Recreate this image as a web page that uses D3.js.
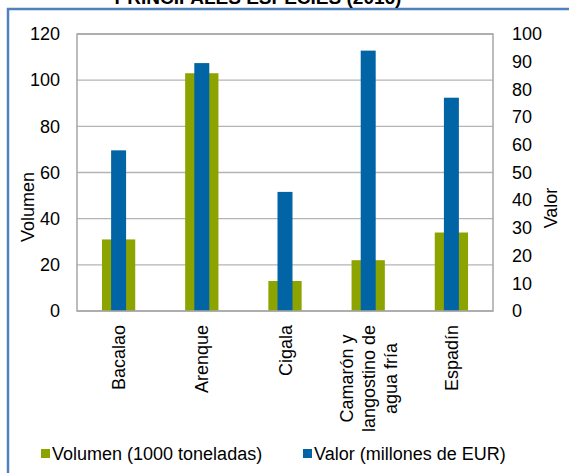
<!DOCTYPE html>
<html>
<head>
  <meta charset="UTF-8">
  <title>Principales especies (2016)</title>
  <script src="https://d3js.org/d3.v7.min.js"></script>
  <style>
    body {
      margin: 0;
      padding: 0;
      background-color: #ffffff;
      font-family: 'Liberation Sans', Arial, sans-serif;
    }
    svg text {
      fill: #000;
      font-family: 'Liberation Sans', Arial, sans-serif;
    }
  </style>
</head>
<body>
  <svg id="chart" width="569" height="473"></svg>
  <script>
    // data
    const categories = ["Bacalao", "Arenque", "Cigala", "Camarón y langostino de agua fría", "Espadín"];
    const categoryLines = [["Bacalao"], ["Arenque"], ["Cigala"], ["Camarón y", "langostino de", "agua fría"], ["Espadín"]];
    const volumen = [31, 103, 13, 22, 34];      // 1000 toneladas (left axis)
    const valor = [58, 89.5, 43, 94, 77];       // millones de EUR (right axis)
    const leftTicks = [0, 20, 40, 60, 80, 100, 120];
    const rightTicks = [0, 10, 20, 30, 40, 50, 60, 70, 80, 90, 100];

    const green = "#8da300";
    const blue = "#0064a5";

    const plot = { left: 77, right: 493, top: 34, bottom: 311 };

    const svg = d3.select("#chart");

    // blue frame around chart
    svg.append("rect")
      .attr("x", 8).attr("y", 9)
      .attr("width", 600).attr("height", 500)
      .attr("fill", "none")
      .attr("stroke", "#4f81bd")
      .attr("stroke-width", 2.5);

    // title, mostly cut off at the top
    svg.append("text")
      .attr("x", 258).attr("y", 4)
      .attr("text-anchor", "middle")
      .style("font-size", "19px")
      .style("font-weight", "bold")
      .text("PRINCIPALES ESPECIES (2016)");

    const x = d3.scaleBand()
      .domain(categories)
      .range([plot.left, plot.right])
      .padding(0);

    const yL = d3.scaleLinear().domain([0, 120]).range([plot.bottom, plot.top]);
    const yR = d3.scaleLinear().domain([0, 100]).range([plot.bottom, plot.top]);

    // gridlines
    svg.append("g")
      .selectAll("line")
      .data(leftTicks)
      .join("line")
      .attr("x1", plot.left).attr("x2", plot.right)
      .attr("y1", d => yL(d)).attr("y2", d => yL(d))
      .attr("stroke", "#b4b4b4")
      .attr("stroke-width", 1.3);

    const bw = x.bandwidth();
    const gW = bw * 0.4;
    const bW = bw * 0.18;

    svg.append("g")
      .selectAll("rect")
      .data(categories)
      .join("rect")
      .attr("x", d => x(d) + bw / 2 - gW / 2)
      .attr("width", gW)
      .attr("y", (d, i) => yL(volumen[i]))
      .attr("height", (d, i) => yL(0) - yL(volumen[i]))
      .attr("fill", green);

    svg.append("g")
      .selectAll("rect")
      .data(categories)
      .join("rect")
      .attr("x", d => x(d) + bw / 2 - bW / 2)
      .attr("width", bW)
      .attr("y", (d, i) => yR(valor[i]))
      .attr("height", (d, i) => yR(0) - yR(valor[i]))
      .attr("fill", blue);

    // plot border
    svg.append("rect")
      .attr("x", plot.left).attr("y", plot.top)
      .attr("width", plot.right - plot.left)
      .attr("height", plot.bottom - plot.top)
      .attr("fill", "none")
      .attr("stroke", "#a6a6a6")
      .attr("stroke-width", 1.5);

    // left axis
    const axL = svg.append("g")
      .attr("transform", `translate(${plot.left},0)`)
      .call(d3.axisLeft(yL).tickValues(leftTicks).tickSize(0).tickPadding(17));
    axL.select(".domain").remove();
    axL.selectAll("text").style("font-size", "18px").style("font-family", "'Liberation Sans', Arial, sans-serif");

    // right axis
    const axR = svg.append("g")
      .attr("transform", `translate(${plot.right},0)`)
      .call(d3.axisRight(yR).tickValues(rightTicks).tickSize(0).tickPadding(19));
    axR.select(".domain").remove();
    axR.selectAll("text").style("font-size", "18px").style("font-family", "'Liberation Sans', Arial, sans-serif");

    // axis titles
    svg.append("text")
      .attr("transform", "translate(34,207) rotate(-90)")
      .attr("text-anchor", "middle")
      .style("font-size", "18px")
      .text("Volumen");

    svg.append("text")
      .attr("transform", "translate(557,208) rotate(-90)")
      .attr("text-anchor", "middle")
      .style("font-size", "18px")
      .text("Valor");

    // category labels, rotated
    const catG = svg.append("g");
    categories.forEach(function(c, i) {
      const lines = categoryLines[i];
      const cx = x(c) + bw / 2;
      const lineH = 22;
      const g = catG.append("g")
        .attr("transform", `translate(${cx},325) rotate(-90)`);
      if (lines.length === 1) {
        g.append("text")
          .attr("x", 0).attr("y", 6.5)
          .attr("text-anchor", "end")
          .style("font-size", "18px")
          .text(lines[0]);
      } else {
        const t = g.append("text")
          .attr("text-anchor", "middle")
          .style("font-size", "18px");
        lines.forEach(function(l, j) {
          t.append("tspan")
            .attr("x", 0)
            .attr("y", 6.5 + (j - (lines.length - 1) / 2) * lineH)
            .text(l);
        });
        const w = t.node().getBBox().width;
        t.attr("transform", `translate(${-w / 2},0)`);
      }
    });

    // legend
    const legend = [
      { label: "Volumen (1000 toneladas)", color: green, x: 41 },
      { label: "Valor (millones de EUR)", color: blue, x: 303 }
    ];
    const lg = svg.append("g");
    legend.forEach(function(d) {
      lg.append("rect")
        .attr("x", d.x).attr("y", 449)
        .attr("width", 9).attr("height", 9)
        .attr("fill", d.color);
      lg.append("text")
        .attr("x", d.x + 11).attr("y", 460)
        .style("font-size", "18px")
        .text(d.label);
    });
  </script>
</body>
</html>
